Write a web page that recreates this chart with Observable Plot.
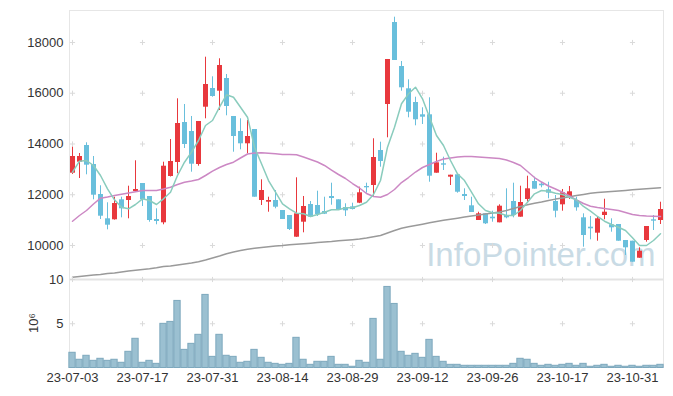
<!DOCTYPE html>
<html><head><meta charset="utf-8">
<script src="https://cdn.jsdelivr.net/npm/d3@7"></script>
<script src="https://cdn.jsdelivr.net/npm/@observablehq/plot@0.6"></script>
<style>
body{margin:0;background:#fff;}
#chart{position:relative;width:673px;height:396px;font-family:"Liberation Sans",Arial,sans-serif;}
#chart svg{position:absolute;left:0;background:transparent;}
</style></head><body><div id="chart"></div>
<script>
const dates = [
"23-07-03","23-07-04","23-07-05","23-07-06","23-07-07","23-07-10","23-07-11","23-07-12","23-07-13","23-07-14",
"23-07-17","23-07-18","23-07-19","23-07-20","23-07-21","23-07-24","23-07-25","23-07-26","23-07-27","23-07-28",
"23-07-31","23-08-01","23-08-02","23-08-03","23-08-04","23-08-07","23-08-08","23-08-09","23-08-10","23-08-11",
"23-08-14","23-08-16","23-08-17","23-08-18","23-08-21","23-08-22","23-08-23","23-08-24","23-08-25","23-08-28",
"23-08-29","23-08-30","23-08-31","23-09-01","23-09-04","23-09-05","23-09-06","23-09-07","23-09-08","23-09-11",
"23-09-12","23-09-13","23-09-14","23-09-15","23-09-18","23-09-19","23-09-20","23-09-21","23-09-22","23-09-25",
"23-09-26","23-09-27","23-10-04","23-10-05","23-10-06","23-10-10","23-10-11","23-10-12","23-10-13","23-10-16",
"23-10-17","23-10-18","23-10-19","23-10-20","23-10-23","23-10-24","23-10-25","23-10-26","23-10-27","23-10-30",
"23-10-31","23-11-01","23-11-02","23-11-03","23-11-06"];
const open = [
12849,13283,13941,13192,12010,11052,11013,11801,11773,12128,
12443,11931,11024,10894,12719,13271,14847,14493,13192,15450,
16187,16081,16581,15084,14493,14008,14571,11773,11706,11773,
11379,11182,10327,10918,11616,11576,11340,11931,11801,11497,
11523,11667,12325,12364,13744,15557,18788,17054,16175,15635,
15151,15151,12849,13220,12692,12786,12010,11564,10985,11249,
11116,10894,11182,11734,11116,11813,12522,12416,12195,11734,
11603,11880,11773,11091,10721,10485,11182,10816,10827,10197,
10169,9499,10197,11013,10985];
const high = [
13874,13625,14047,13507,12353,11683,11903,11903,12337,13338,
12443,11931,11446,13283,14177,15781,15557,15084,14887,17421,
16648,17358,16739,15084,14993,14926,14571,12589,11903,12167,
11379,11182,12668,11931,11734,12140,11903,12455,11801,11643,
11667,12298,12455,14205,14071,17330,18997,17251,16530,15844,
15427,15821,13637,13480,12770,12800,12234,11903,11312,11249,
11352,11603,12234,12455,12337,12731,12692,12494,12494,11970,
12207,12325,11903,11249,11143,11143,11824,11052,10827,10197,
10169,9909,10748,11182,11706];
const low = [
12800,12640,12786,11801,11024,10618,11000,11091,11052,12100,
11537,10918,10816,10816,12700,12826,13822,12889,13125,14993,
15844,15320,15111,13677,13771,13614,11903,11576,11312,11446,
11024,10591,10320,10500,11100,11143,11220,11588,11407,11143,
11400,11650,12061,11931,13086,14244,17291,16081,15032,14717,
14768,12494,12849,12955,12364,12061,11773,11300,10985,10827,
10918,10894,11052,11091,11116,11706,12219,12274,11840,11091,
11352,11813,11352,9933,10224,10169,11013,10524,10169,9606,
9342,9499,10130,10591,10827];
const close = [
13507,13507,13165,11982,11154,10800,11655,11446,11931,12207,
11801,10985,10945,13125,13310,14808,13980,13204,14887,16345,
15872,17094,15478,14295,14008,14295,11903,12167,11773,11509,
11024,10630,11249,11537,11116,11221,11234,11852,11407,11367,
11418,12077,12274,13468,13310,17330,17291,16215,15253,14954,
15056,12731,13259,13165,12770,12100,11931,11300,11249,10855,
11052,11549,11091,11182,11694,12234,12219,12353,12061,11352,
12077,12116,11486,10394,10658,11052,11312,10697,10169,9909,
9342,9775,10748,10958,11418];
// volume in millions of shares
const volume = [
1.72,0.93,1.38,0.81,1.04,0.81,0.93,0.59,1.83,3.30,
0.59,0.81,0.47,4.99,5.21,7.58,2.05,2.73,3.75,8.26,
1.26,3.75,1.38,1.26,0.59,0.70,2.05,1.15,0.59,0.47,
0.36,0.47,3.41,0.93,0.36,0.70,0.70,1.26,0.36,0.36,
0.14,0.81,0.59,5.55,0.93,9.16,7.24,1.83,1.38,1.60,
1.15,3.18,1.26,0.70,0.36,0.36,0.25,0.25,0.25,0.25,
0.25,0.25,0.25,0.47,1.04,0.93,0.47,0.25,0.36,0.25,
0.36,0.47,0.25,0.47,0.14,0.25,0.36,0.14,0.25,0.14,
0.25,0.14,0.25,0.25,0.36];
const ma5 = [
12888,13322,13349,13153,12758,12234,11801,11509,11446,11616,
11840,11773,11616,11840,12100,12758,13282,13677,14138,14729,
14926,15450,15939,15844,15450,15056,13874,13219,12561,12100,
11643,11446,11273,11249,11143,11221,11312,11407,11407,11485,
11485,11576,11706,12010,12561,13874,14662,15584,15978,16238,
15781,15056,14335,13941,13349,12825,12561,12100,11643,11379,
11288,11273,11182,11182,11379,11706,12037,12167,12140,12061,
12010,11903,11801,11537,11351,11143,10957,10827,10721,10591,
10303,10000,10000,10197,10461];
const ma20 = [
10957,11182,11379,11635,11864,11911,11970,12021,12069,12116,
12167,12167,12167,12226,12297,12404,12494,12542,12601,12758,
12928,13074,13192,13282,13448,13606,13645,13653,13637,13613,
13586,13586,13574,13487,13389,13290,13153,12975,12798,12640,
12443,12266,12049,11931,11903,12010,12207,12482,12679,12896,
13074,13192,13310,13409,13448,13487,13507,13507,13487,13468,
13448,13428,13369,13271,13153,12916,12679,12502,12344,12226,
12100,11950,11793,11655,11549,11497,11458,11418,11379,11300,
11221,11182,11162,11151,11143];
const ma60 = [
8750,8778,8805,8833,8857,8896,8916,8955,8995,9022,
9054,9085,9125,9172,9192,9231,9270,9310,9357,9428,
9507,9586,9672,9743,9803,9850,9889,9921,9952,9980,
9999,10027,10051,10071,10090,10114,10137,10157,10185,10204,
10228,10256,10295,10342,10394,10492,10591,10678,10737,10788,
10839,10894,10945,10993,11036,11076,11119,11162,11202,11241,
11281,11320,11379,11458,11537,11604,11663,11714,11773,11828,
11876,11923,11970,12013,12061,12084,12104,12128,12151,12171,
12195,12214,12238,12258,12273];
const xTickIndex = [0,10,20,30,40,50,60,70,80];
const priceTicks = [10000,12000,14000,16000,18000];
const volumeTicks = [5,10];
const volumeUnit = "10⁶";
const watermark = "InfoPointer.com";

const RED = "#e8383d", BLUE = "#69bfdc";
const rows = dates.map((d, i) => ({i, date: d, open: open[i], high: high[i], low: low[i], close: close[i],
  volume: volume[i], ma5: ma5[i], ma20: ma20[i], ma60: ma60[i]}));
const color = d => d.close >= d.open ? RED : BLUE;
const xDomain = [-0.43, dates.length - 1 + 0.43];
const font = '"Liberation Sans", Arial, sans-serif';
const priceCross = xTickIndex.flatMap(i => priceTicks.map(v => ({i, v})));
const volCross = xTickIndex.flatMap(i => volumeTicks.map(v => ({i, v})));

const price = Plot.plot({
  width: 673, height: 280, marginTop: 10, marginBottom: 1, marginLeft: 69, marginRight: 10,
  style: {fontFamily: font, fontSize: "13px", color: "#333", background: "transparent"},
  x: {domain: xDomain, axis: null},
  y: {domain: [8660, 19261], ticks: priceTicks, tickFormat: d3.format("d"), tickSize: 0, tickPadding: 6, label: null},
  marks: [
    Plot.text([watermark], {frameAnchor: "bottom-right", dx: -8, dy: -14, fontSize: 33,
      fill: "#c9dbe5", fontFamily: font, style: "letter-spacing:-1.4px"}),
    Plot.frame({stroke: "#e6e6e6"}),
    Plot.dot(priceCross, {x: "i", y: "v", symbol: "plus", r: 1.8, stroke: "#dadada", strokeWidth: 1}),
    Plot.ruleX(rows, {x: "i", y1: "low", y2: "high", stroke: color, strokeWidth: 1}),
    Plot.ruleX(rows, {x: "i", y1: "open", y2: "close", stroke: color, strokeWidth: 5}),
    Plot.line(rows, {x: "i", y: "ma60", stroke: "#9a9a9a", strokeWidth: 1.5}),
    Plot.line(rows, {x: "i", y: "ma20", stroke: "#cc88c4", strokeWidth: 1.5}),
    Plot.line(rows, {x: "i", y: "ma5", stroke: "#8accbd", strokeWidth: 1.5})
  ]
});
price.style.top = "0px";

const vol = Plot.plot({
  width: 673, height: 131, marginTop: 14, marginBottom: 28.5, marginLeft: 69, marginRight: 10,
  style: {fontFamily: font, fontSize: "13px", color: "#333", background: "transparent"},
  x: {domain: xDomain, ticks: xTickIndex, tickFormat: i => dates[i], tickSize: 0, tickPadding: 5, label: null},
  y: {domain: [0, 10], ticks: volumeTicks, tickSize: 0, tickPadding: 6, label: null},
  marks: [
    Plot.ruleX(xDomain, {stroke: "#e6e6e6"}),
    Plot.ruleY([10], {stroke: "#e3e3e3", strokeWidth: 2}),
    Plot.dot(volCross, {x: "i", y: "v", symbol: "plus", r: 1.8, stroke: "#dadada", strokeWidth: 1}),
    Plot.rectY(rows, {x1: d => d.i - 0.45, x2: d => d.i + 0.45, y: "volume", fill: "#9bc0d1", stroke: "#7da8bd", strokeWidth: 1})
  ]
});
vol.style.top = "265px";
// rotated unit label for the volume axis
d3.select(vol).append("text")
  .attr("transform", "translate(33,58) rotate(-90)")
  .attr("text-anchor", "middle").attr("dominant-baseline", "central")
  .attr("fill", "#333").attr("font-size", 13).attr("font-family", font)
  .text(volumeUnit);

const chart = document.getElementById("chart");
chart.appendChild(price);
chart.appendChild(vol);
</script></body></html>
